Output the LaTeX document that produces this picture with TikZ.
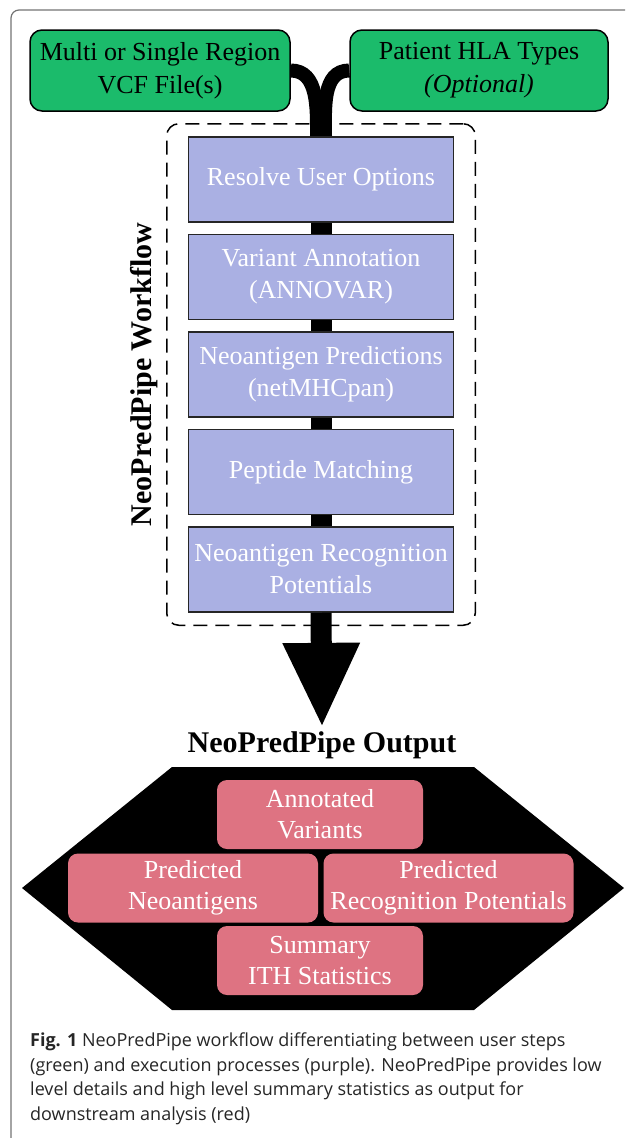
\documentclass[tikz,border=0pt]{standalone}
\usepackage{fontspec}
\setmainfont{Liberation Serif}
\newfontfamily\capfont{Open Sans}
\usetikzlibrary{positioning,arrows.meta,fit,backgrounds}
\definecolor{usergreen}{HTML}{1BBB6B}
\definecolor{procpurple}{HTML}{AAB0E3}
\definecolor{outred}{HTML}{DE7382}

\begin{document}
\begin{tikzpicture}[x=1pt,y=1pt,node distance=11pt]

\tikzstyle{userstep}=[draw=black,line width=1.5pt,fill=usergreen,rounded corners=12pt,minimum width=260pt,minimum height=81pt,align=center,font=\fontsize{26}{33}\selectfont]
\tikzstyle{process}=[draw=black!85,line width=1.5pt,fill=procpurple,minimum width=265pt,minimum height=85pt,align=center,text=white,font=\fontsize{26}{32}\selectfont]
\tikzstyle{result}=[fill=outred,rounded corners=10pt,minimum height=69pt,align=center,text=white,font=\fontsize{26}{31}\selectfont]
\tikzstyle{pipe}=[line width=21pt]
\tikzstyle{feed}=[line width=14pt]
\tikzstyle{wfbound}=[draw,line width=1.5pt,dash pattern=on 14pt off 8pt,rounded corners=12pt]

\useasboundingbox (0,0) rectangle (625,-1138);

%frame
\draw[black!55,line width=1.2pt,rounded corners=8pt] (11,-1138) -- (11,-10) -- (625,-10);

%user inputs
\node[userstep] (vcf) at (160,-70.5) {Multi or Single Region\\VCF File(s)};
\node[userstep,minimum width=258pt] (hla) at (479,-70.5) {Patient HLA Types\\\textit{(Optional)}};

%workflow steps
\node[process] (resolve) at (321,-179.5) {Resolve User Options};
\node[process] (annot) [below=of resolve] {Variant Annotation\\(ANNOVAR)};
\node[process] (pred) [below=of annot] {Neoantigen Predictions\\(netMHCpan)};
\node[process] (match) [below=of pred] {Peptide Matching};
\node[process] (recog) [below=of match] {Neoantigen Recognition\\Potentials};

\node[wfbound,fit=(resolve) (recog),inner xsep=21pt,inner ysep=12.5pt] (wf) {};
\node[rotate=90,anchor=south,font=\fontsize{30}{34}\selectfont\bfseries] (wflabel) at ([xshift=-5pt]wf.west) {NeoPredPipe Workflow};

%pipes into and through the workflow
\begin{scope}[on background layer]
\draw[feed] (vcf.east) to[out=0,in=90] ([xshift=-4pt]resolve.north);
\draw[feed] (hla.west) to[out=180,in=90] ([xshift=4pt]resolve.north);
\draw[pipe] (resolve) -- (recog);
\end{scope}

%output
\node[font=\fontsize{30}{34}\selectfont\bfseries] (outtitle) at (322,-745) {NeoPredPipe Output};
\draw[pipe,-{Triangle[width=71pt,length=85pt]}] (recog.south) -- (outtitle.north);

\fill (172,-767) -- (474,-767) -- (624,-888) -- (474,-1010) -- (172,-1010) -- (22,-888) -- cycle;

\node[result,minimum width=206pt] (annvar) at (320,-814.5) {Annotated\\Variants};
\node[result,minimum width=250pt] (neo) at (193,-888) {Predicted\\Neoantigens};
\node[result,minimum width=250pt] (recpot) at (448.5,-888) {Predicted\\Recognition Potentials};
\node[result,minimum width=206pt] (ith) at (320,-960.5) {Summary\\ITH Statistics};

%caption
\node[anchor=north west,align=left,inner sep=0pt,text=black!85,font=\capfont\fontsize{18}{24.5}\selectfont] (caption) at (30,-1033) {\textbf{Fig. 1} NeoPredPipe workflow differentiating between user steps\\(green) and execution processes (purple). NeoPredPipe provides low\\level details and high level summary statistics as output for\\downstream analysis (red)};

\end{tikzpicture}
\end{document}
